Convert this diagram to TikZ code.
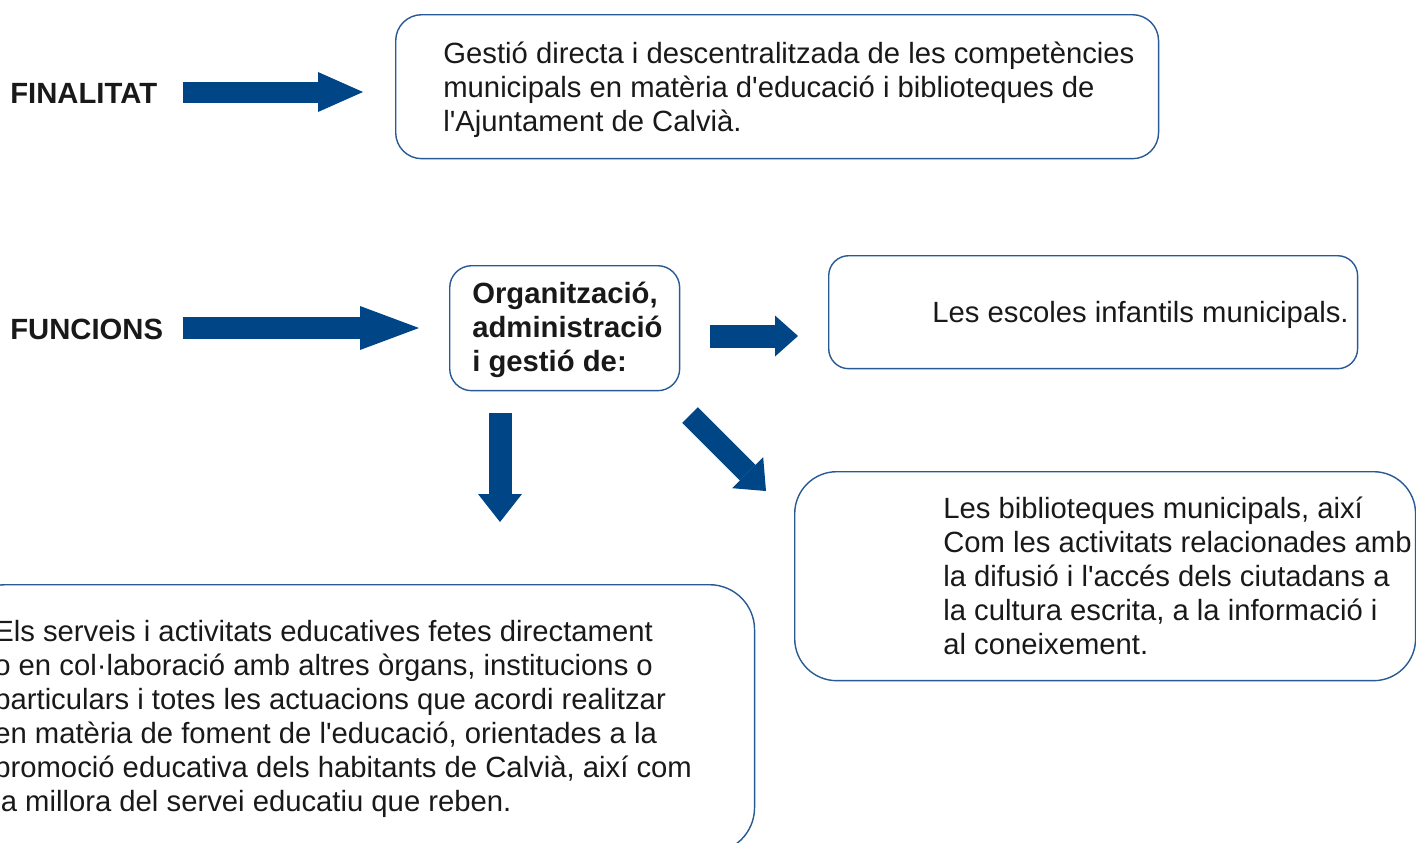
\documentclass[tikz,border=0pt]{standalone}
\usepackage{fontspec}
\setmainfont{Liberation Sans}
\usetikzlibrary{arrows.meta}
\usetikzlibrary{positioning}
\definecolor{arrowblue}{RGB}{0,69,134}
\definecolor{boxblue}{RGB}{40,90,150}
\newcommand{\ap}{\textquotesingle}
\tikzset{
	box/.style={draw=boxblue, line width=0.8pt, rounded corners=#1, anchor=north west, inner sep=0pt},
	txt/.style={inner sep=0pt, align=left, anchor=base west, text=black!90,
		font=\fontsize{16.65}{19.3}\selectfont},
	lbl/.style={inner sep=0pt, anchor=base west, text=black!90,
		font=\fontsize{16.65}{19.3}\selectfont\bfseries},
	blockarrow/.style n args={3}{draw=arrowblue, line width=#1,
		-{Triangle[length=#2, width=#3, line width=0pt]}}
}

\begin{document}
\begin{tikzpicture}[x=0.02cm, y=-0.02cm]
\useasboundingbox (0,0) rectangle (1416,842);
\clip (0,0) rectangle (1416,842);

% row labels
\node[lbl] (finalitat) at (10,103) {FINALITAT};
\node[lbl] (funcions) at (10,339) {FUNCIONS};

% boxes
\node[box=0.52cm, minimum width=15.26cm, minimum height=2.88cm] (gestio) at (395,14) {};
\node[box=0.44cm, minimum width=4.6cm, minimum height=2.5cm] (org) at (449,265) {};
\node[box=0.4cm, minimum width=10.58cm, minimum height=2.26cm] (escoles) at (828,255) {};
\node[box=0.84cm, minimum width=12.42cm, minimum height=4.18cm] (biblio) at (794,471) {};
\node[box=0.9cm, minimum width=15.88cm, minimum height=5.36cm] (serveis) at (-40,584) {};

% texts (anchored at the baseline of the last line)
\node[txt] (gestiotxt) at (443,131)
	{Gestió directa i descentralitzada de les competències\\
	 municipals en matèria d\ap educació i biblioteques de\\
	 l\ap Ajuntament de Calvià.};
\node[txt, font=\fontsize{16.65}{19.3}\selectfont\bfseries] (orgtxt) at (472,371)
	{Organització,\\administració\\i gestió de:};
\node[txt] (escolestxt) at (932,322) {Les escoles infantils municipals.};
\node[txt] (bibliotxt) at (943,654)
	{Les biblioteques municipals, així\\
	 Com les activitats relacionades amb\\
	 la difusió i l\ap accés dels ciutadans a\\
	 la cultura escrita, a la informació i\\
	 al coneixement.};
\node[txt] (serveistxt) at (-6,811)
	{Els serveis i activitats educatives fetes directament\\
	 o en col·laboració amb altres òrgans, institucions o\\
	 particulars i totes les actuacions que acordi realitzar\\
	 en matèria de foment de l\ap educació, orientades a la\\
	 promoció educativa dels habitants de Calvià, així com\\
	 la millora del servei educatiu que reben.};

% arrow ends
\coordinate (finA) at (183,92);
\coordinate (finB) at (363,92);
\coordinate (funA) at (183,328);
\coordinate (funB) at (419,328);
\coordinate (escA) at (710,336);
\coordinate (escB) at (798,336);
\coordinate (serA) at (500,413);
\coordinate (serB) at (500,522);
\coordinate (bibA) at (690,415);
\coordinate (bibB) at (766,491);

\draw [blockarrow={0.42cm}{0.9cm}{0.8cm}] (finA) -- (finB);
\draw [blockarrow={0.44cm}{1.18cm}{0.88cm}] (funA) -- (funB);
\draw [blockarrow={0.46cm}{0.46cm}{0.82cm}] (escA) -- (escB);
\draw [blockarrow={0.46cm}{0.56cm}{0.88cm}] (serA) -- (serB);
\draw [blockarrow={0.44cm}{0.52cm}{0.88cm}] (bibA) -- (bibB);

\end{tikzpicture}
\end{document}
